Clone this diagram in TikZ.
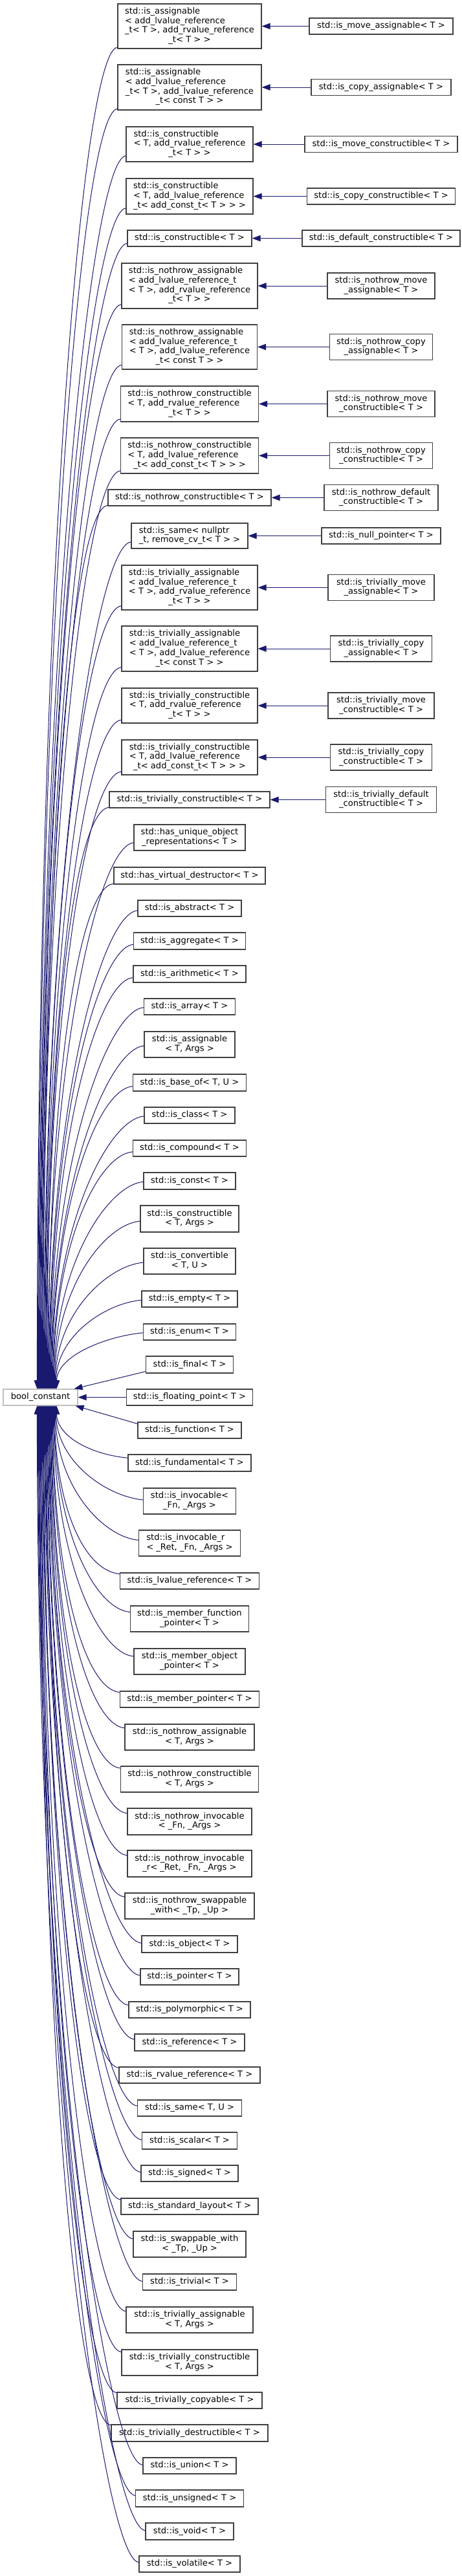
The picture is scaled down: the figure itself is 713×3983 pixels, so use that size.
\documentclass[tikz,border=0pt]{standalone}
\usepackage{fontspec}
\setmainfont{DejaVu Sans}
\usetikzlibrary{arrows.meta,calc}
\definecolor{edgeblue}{HTML}{191970}
\definecolor{boxgray}{HTML}{404040}
\definecolor{bcgray}{HTML}{BFBFBF}
\newcommand\ml[2]{\begin{tabular}{@{}l@{}}#1\\\multicolumn{1}{@{}c@{}}{#2}\end{tabular}}
\tikzset{
  mbox/.style={draw=boxgray, line width=1.2pt, fill=white, inner sep=1pt,
    font=\fontsize{13.1}{14.7}\selectfont},
  bcbox/.style={draw=bcgray, line width=1.2pt, fill=white, inner sep=1pt,
    font=\fontsize{13.1}{14.7}\selectfont},
  edge/.style={draw=edgeblue, line width=1pt, -{Triangle[length=13pt,width=9.5pt]}},
}
\newcommand\uedge[5]{%
  \pgfmathsetmacro\xl{293-#3/2}%
  \pgfmathsetmacro\fr{min(0.95,max(0.1,(225-\xl)/45))}%
  \pgfmathsetmacro\off{\fr*#4/2}%
  \pgfmathsetmacro\cy{2148-0.6*(2148-(#2+\off))}%
  \pgfmathsetmacro\xs{#5-5}%
  \draw[edge] ($(#1.west)+(0,\off)$) .. controls ($(#1.west)+(-55,\off+5)$) and (#5,\cy) .. ([xshift=\xs pt]bc.north west);}
\newcommand\ledge[5]{%
  \pgfmathsetmacro\xl{293-#3/2}%
  \pgfmathsetmacro\fr{min(0.95,max(0.1,(225-\xl)/45))}%
  \pgfmathsetmacro\off{\fr*#4/2}%
  \pgfmathsetmacro\cy{2173+0.6*((#2-\off)-2173)}%
  \pgfmathsetmacro\xs{#5-5}%
  \draw[edge] ($(#1.west)+(0,-\off)$) .. controls ($(#1.west)+(-55,-\off-5)$) and (#5,\cy) .. ([xshift=\xs pt]bc.south west);}
\newcommand\mn[7]{%
  \node[mbox,minimum width=#3pt,minimum height=#4pt] (#1) at (293,#2) {#5};%
  \if#6u\uedge{#1}{#2}{#3}{#4}{#7}\fi
  \if#6l\ledge{#1}{#2}{#3}{#4}{#7}\fi}
\newcommand\rn[6]{%
  \node[mbox,minimum width=#3pt,minimum height=#4pt] (#1) at (589,#2) {#5};%
  \draw[edge] (#1.west) -- (#6.east);}
\begin{document}
\begin{tikzpicture}[x=1pt,y=-1pt]
\fill[white] (0,0) rectangle (713,3983);
\useasboundingbox (0,0) rectangle (713,3983);
\node[bcbox,minimum width=115pt,minimum height=25pt] (bc) at (62.5,2160.5) {bool\_constant};

\mn{m1}{40.5}{222}{69}{\ml{std::is\_assignable\\< add\_lvalue\_reference\\\_t< T >, add\_rvalue\_reference}{\_t< T > >}}{u}{58}
\mn{m2}{135}{222}{70}{\ml{std::is\_assignable\\< add\_lvalue\_reference\\\_t< T >, add\_lvalue\_reference}{\_t< const T > >}}{u}{59}
\mn{m3}{223}{196}{54}{\ml{std::is\_constructible\\< T, add\_rvalue\_reference}{\_t< T > >}}{u}{60}
\mn{m4}{303.5}{196}{55}{\ml{std::is\_constructible\\< T, add\_lvalue\_reference}{\_t< add\_const\_t< T > > >}}{u}{61}
\mn{m5}{368.5}{192}{25}{std::is\_constructible< T >}{u}{62}
\mn{m6}{442}{210}{70}{\ml{std::is\_nothrow\_assignable\\< add\_lvalue\_reference\_t\\< T >, add\_rvalue\_reference}{\_t< T > >}}{u}{63}
\mn{m7}{536.5}{209}{69}{\ml{std::is\_nothrow\_assignable\\< add\_lvalue\_reference\_t\\< T >, add\_lvalue\_reference}{\_t< const T > >}}{u}{64}
\mn{m8}{624.5}{213}{55}{\ml{std::is\_nothrow\_constructible\\< T, add\_rvalue\_reference}{\_t< T > >}}{u}{65}
\mn{m9}{704.5}{213}{55}{\ml{std::is\_nothrow\_constructible\\< T, add\_lvalue\_reference}{\_t< add\_const\_t< T > > >}}{u}{66}
\mn{m10}{769.5}{252}{25}{std::is\_nothrow\_constructible< T >}{u}{67}
\mn{m11}{828.5}{180}{39}{\ml{std::is\_same< nullptr}{\_t, remove\_cv\_t< T > >}}{u}{68}
\mn{m12}{908.5}{210}{69}{\ml{std::is\_trivially\_assignable\\< add\_lvalue\_reference\_t\\< T >, add\_rvalue\_reference}{\_t< T > >}}{u}{69}
\mn{m13}{1003}{210}{70}{\ml{std::is\_trivially\_assignable\\< add\_lvalue\_reference\_t\\< T >, add\_lvalue\_reference}{\_t< const T > >}}{u}{70}
\mn{m14}{1091}{210}{54}{\ml{std::is\_trivially\_constructible\\< T, add\_rvalue\_reference}{\_t< T > >}}{u}{71}
\mn{m15}{1171}{210}{54}{\ml{std::is\_trivially\_constructible\\< T, add\_lvalue\_reference}{\_t< add\_const\_t< T > > >}}{u}{72}
\mn{m16}{1236.5}{248}{25}{std::is\_trivially\_constructible< T >}{u}{73}
\mn{m17}{1295}{172}{40}{\ml{std::has\_unique\_object}{\_representations< T >}}{u}{74}
\mn{m18}{1354}{234}{26}{std::has\_virtual\_destructor< T >}{u}{75}
\mn{m19}{1404.5}{160}{25}{std::is\_abstract< T >}{u}{76}
\mn{m20}{1455}{173}{26}{std::is\_aggregate< T >}{u}{77}
\mn{m21}{1506}{174}{26}{std::is\_arithmetic< T >}{u}{78}
\mn{m22}{1556.5}{141}{25}{std::is\_array< T >}{u}{79}
\mn{m23}{1615}{140}{40}{\ml{std::is\_assignable}{< T, Args >}}{u}{80}
\mn{m24}{1674}{175}{26}{std::is\_base\_of< T, U >}{u}{81}
\mn{m25}{1724.5}{140}{25}{std::is\_class< T >}{u}{82}
\mn{m26}{1775.5}{175}{25}{std::is\_compound< T >}{u}{83}
\mn{m27}{1826}{142}{26}{std::is\_const< T >}{u}{84}
\mn{m28}{1884.5}{152}{41}{\ml{std::is\_constructible}{< T, Args >}}{u}{85}
\mn{m29}{1950}{142}{40}{\ml{std::is\_convertible}{< T, U >}}{u}{86}
\mn{m30}{2008.5}{148}{25}{std::is\_empty< T >}{u}{87}
\mn{m31}{2059.5}{143}{25}{std::is\_enum< T >}{u}{88}
\mn{m32}{2110}{135}{26}{std::is\_final< T >}{x}{}
\mn{m33}{2160.5}{195}{25}{std::is\_floating\_point< T >}{x}{}
\mn{m34}{2211.5}{160}{25}{std::is\_function< T >}{x}{}
\mn{m35}{2262}{190}{26}{std::is\_fundamental< T >}{l}{88}
\mn{m36}{2321}{143}{40}{\ml{std::is\_invocable<}{\_Fn, \_Args >}}{l}{87}
\mn{m37}{2386}{157}{40}{\ml{std::is\_invocable\_r}{< \_Ret, \_Fn, \_Args >}}{l}{86}
\mn{m38}{2444.5}{215}{25}{std::is\_lvalue\_reference< T >}{l}{85}
\mn{m39}{2503}{183}{40}{\ml{std::is\_member\_function}{\_pointer< T >}}{l}{84}
\mn{m40}{2569}{172}{40}{\ml{std::is\_member\_object}{\_pointer< T >}}{l}{83}
\mn{m41}{2627.5}{215}{25}{std::is\_member\_pointer< T >}{l}{82}
\mn{m42}{2686}{200}{40}{\ml{std::is\_nothrow\_assignable}{< T, Args >}}{l}{81}
\mn{m43}{2751}{213}{40}{\ml{std::is\_nothrow\_constructible}{< T, Args >}}{l}{80}
\mn{m44}{2816.5}{192}{41}{\ml{std::is\_nothrow\_invocable}{< \_Fn, \_Args >}}{l}{79}
\mn{m45}{2881.5}{192}{41}{\ml{std::is\_nothrow\_invocable}{\_r< \_Ret, \_Fn, \_Args >}}{l}{78}
\mn{m46}{2947}{200}{40}{\ml{std::is\_nothrow\_swappable}{\_with< \_Tp, \_Up >}}{l}{77}
\mn{m47}{3006}{148}{26}{std::is\_object< T >}{l}{76}
\mn{m48}{3056.5}{152}{25}{std::is\_pointer< T >}{l}{75}
\mn{m49}{3107.5}{188}{25}{std::is\_polymorphic< T >}{l}{74}
\mn{m50}{3158}{170}{26}{std::is\_reference< T >}{l}{73}
\mn{m51}{3208.5}{218}{25}{std::is\_rvalue\_reference< T >}{l}{72}
\mn{m52}{3259.5}{161}{25}{std::is\_same< T, U >}{l}{71}
\mn{m53}{3310}{147}{26}{std::is\_scalar< T >}{l}{70}
\mn{m54}{3360.5}{150}{25}{std::is\_signed< T >}{l}{69}
\mn{m55}{3411.5}{212}{25}{std::is\_standard\_layout< T >}{l}{68}
\mn{m56}{3470}{174}{40}{\ml{std::is\_swappable\_with}{< \_Tp, \_Up >}}{l}{67}
\mn{m57}{3528.5}{145}{25}{std::is\_trivial< T >}{l}{66}
\mn{m58}{3587}{196}{40}{\ml{std::is\_trivially\_assignable}{< T, Args >}}{l}{65}
\mn{m59}{3653}{210}{40}{\ml{std::is\_trivially\_constructible}{< T, Args >}}{l}{64}
\mn{m60}{3711.5}{224}{25}{std::is\_trivially\_copyable< T >}{l}{63}
\mn{m61}{3762}{242}{26}{std::is\_trivially\_destructible< T >}{l}{62}
\mn{m62}{3812.5}{144}{25}{std::is\_union< T >}{l}{61}
\mn{m63}{3863}{167}{26}{std::is\_unsigned< T >}{l}{60}
\mn{m64}{3914}{136}{26}{std::is\_void< T >}{l}{59}
\mn{m65}{3964.5}{156}{25}{std::is\_volatile< T >}{l}{58}

\draw[edge] ($(m32.south west)+(0,-3)$) -- ([xshift=-6pt]bc.north east);
\draw[edge] (m33.west) -- (bc.east);
\draw[edge] ($(m34.north west)+(0,3)$) -- ([xshift=-4pt]bc.south east);

\rn{r1}{40.5}{222}{25}{std::is\_move\_assignable< T >}{m1}
\rn{r2}{135}{216}{25}{std::is\_copy\_assignable< T >}{m2}
\rn{r3}{223}{236}{25}{std::is\_move\_constructible< T >}{m3}
\rn{r4}{303.5}{229}{25}{std::is\_copy\_constructible< T >}{m4}
\rn{r5}{368.5}{244}{25}{std::is\_default\_constructible< T >}{m5}
\rn{r6}{442}{166}{40}{\ml{std::is\_nothrow\_move}{\_assignable< T >}}{m6}
\rn{r7}{536.5}{159}{40}{\ml{std::is\_nothrow\_copy}{\_assignable< T >}}{m7}
\rn{r8}{624.5}{166}{40}{\ml{std::is\_nothrow\_move}{\_constructible< T >}}{m8}
\rn{r9}{704.5}{159}{40}{\ml{std::is\_nothrow\_copy}{\_constructible< T >}}{m9}
\rn{r10}{769.5}{176}{40}{\ml{std::is\_nothrow\_default}{\_constructible< T >}}{m10}
\rn{r11}{828.5}{184}{25}{std::is\_null\_pointer< T >}{m11}
\rn{r12}{908.5}{164}{40}{\ml{std::is\_trivially\_move}{\_assignable< T >}}{m12}
\rn{r13}{1003}{157}{40}{\ml{std::is\_trivially\_copy}{\_assignable< T >}}{m13}
\rn{r14}{1091}{164}{40}{\ml{std::is\_trivially\_move}{\_constructible< T >}}{m14}
\rn{r15}{1171}{157}{40}{\ml{std::is\_trivially\_copy}{\_constructible< T >}}{m15}
\rn{r16}{1236.5}{171}{40}{\ml{std::is\_trivially\_default}{\_constructible< T >}}{m16}
\end{tikzpicture}
\end{document}
